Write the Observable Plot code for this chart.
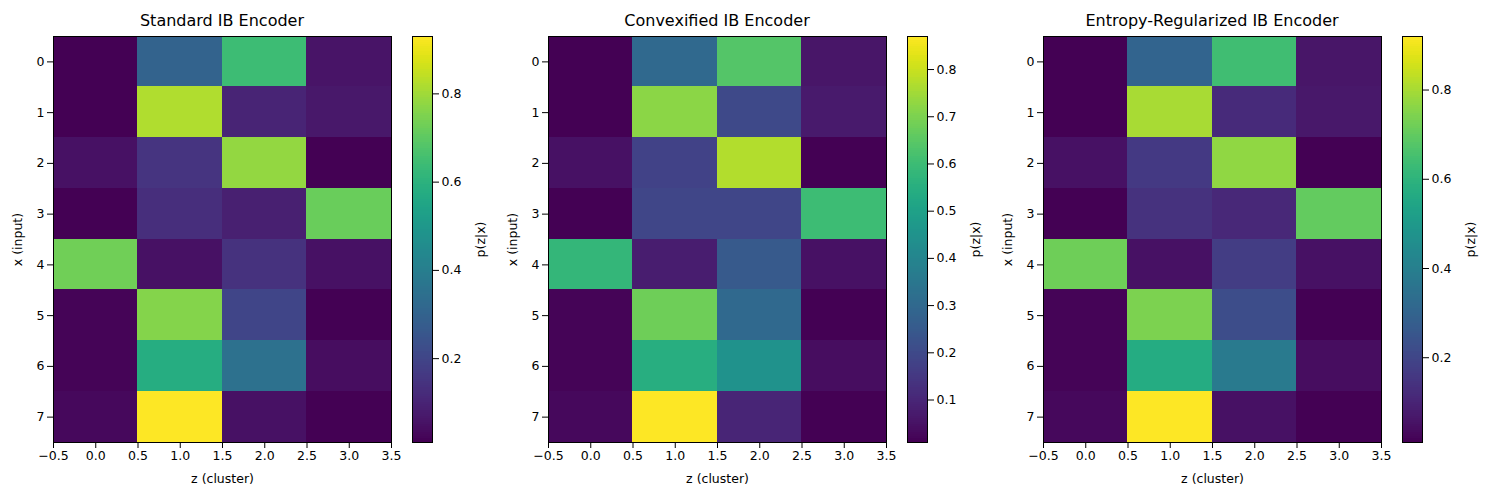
<!DOCTYPE html>
<html><head><meta charset="utf-8">
<script src="https://cdn.jsdelivr.net/npm/d3@7"></script>
<script src="https://cdn.jsdelivr.net/npm/@observablehq/plot@0.6"></script>
<style>
body{margin:0;background:#fff;font-family:"DejaVu Sans",sans-serif;}
#root{position:relative;width:1500px;height:500px;}
.abs{position:absolute;top:0;}
.abs svg{max-width:none !important;}
.title{position:absolute;top:11px;font-size:16px;text-align:center;width:338px;}
</style></head><body><div id="root"></div>
<script>
const titles = ["Standard IB Encoder","Convexified IB Encoder","Entropy-Regularized IB Encoder"];
const clusters = [0,1,2,3];
const inputs = [0,1,2,3,4,5,6,7];
const standard = [
 [0.01,0.30,0.64,0.06],[0.01,0.82,0.10,0.07],[0.05,0.15,0.78,0.01],[0.01,0.13,0.09,0.72],
 [0.73,0.05,0.14,0.05],[0.02,0.76,0.20,0.01],[0.02,0.58,0.35,0.04],[0.03,0.93,0.05,0.01]];
const convexified = [
 [0.01,0.30,0.64,0.06],[0.01,0.72,0.20,0.07],[0.05,0.18,0.77,0.01],[0.01,0.19,0.19,0.60],
 [0.58,0.08,0.25,0.05],[0.02,0.68,0.30,0.01],[0.02,0.55,0.45,0.04],[0.03,0.87,0.10,0.01]];
const entropyReg = [
 [0.01,0.30,0.64,0.06],[0.01,0.80,0.12,0.07],[0.05,0.16,0.77,0.01],[0.01,0.14,0.11,0.70],
 [0.72,0.05,0.17,0.05],[0.02,0.74,0.22,0.01],[0.02,0.57,0.38,0.04],[0.03,0.92,0.05,0.01]];
const xTicks = [-0.5,0,0.5,1,1.5,2,2.5,3,3.5];
const cbTicks = [[0.2,0.4,0.6,0.8],[0.1,0.2,0.3,0.4,0.5,0.6,0.7,0.8],[0.2,0.4,0.6,0.8]];
const matrices = [standard, convexified, entropyReg];
const offsets = [0, 495, 990];
const fmt = d => d.toFixed(1).replace("-", "\u2212");

const root = document.getElementById("root");
matrices.forEach((m, i) => {
  const data = [];
  inputs.forEach(x => clusters.forEach(z => data.push({x, z, v: m[x][z]})));
  const vals = data.map(d => d.v);
  const lo = d3.min(vals), hi = d3.max(vals);
  const color = {type:"linear", scheme:"viridis", domain:[lo,hi]};
  const p = Plot.plot({
    width: 400, height: 500, marginTop: 36, marginBottom: 58, marginLeft: 53, marginRight: 9,
    style:{fontSize:"12.5px", fontFamily:"DejaVu Sans", background:"transparent", overflow:"visible", color:"#000"},
    x:{type:"linear", domain:[-0.5,3.5], ticks:xTicks, tickFormat:fmt, label:"z (cluster)", labelAnchor:"center", labelArrow:"none", labelOffset:40},
    y:{type:"linear", domain:[7.5,-0.5], ticks:inputs, tickFormat:d=>String(d), label:"x (input)", labelAnchor:"center", labelArrow:"none", labelOffset:40},
    color,
    marks:[
      Plot.rect(data,{x1:d=>d.z-0.5,x2:d=>d.z+0.5,y1:d=>d.x-0.5,y2:d=>d.x+0.5,fill:"v",inset:-0.3,shapeRendering:"crispEdges"}),
      Plot.frame({stroke:"#000"})
    ]
  });
  const wrap = document.createElement("div"); wrap.className="abs"; wrap.style.left=offsets[i]+"px";
  wrap.appendChild(p); root.appendChild(wrap);
  const t = document.createElement("div"); t.className="title"; t.style.left=(offsets[i]+53)+"px"; t.textContent=titles[i];
  root.appendChild(t);
  const steps = d3.range(200).map(k => ({a: lo+(hi-lo)*k/200, b: lo+(hi-lo)*(k+1)/200}));
  const cb = Plot.plot({
    width: 90, height: 500, marginTop: 36, marginBottom: 58, marginLeft: 0, marginRight: 70,
    style:{fontSize:"12.5px", fontFamily:"DejaVu Sans", background:"transparent", overflow:"visible", color:"#000"},
    x:{domain:[0,1], axis:null},
    y:{domain:[lo,hi], axis:null},
    color,
    marks:[
      Plot.rect(steps,{x1:0,x2:1,y1:"a",y2:"b",fill:d=>(d.a+d.b)/2,inset:-0.3,shapeRendering:"crispEdges"}),
      Plot.axisY({anchor:"right", ticks:cbTicks[i], tickFormat:fmt, label:"p(z|x)", labelAnchor:"center", labelArrow:"none", labelOffset:52}),
      Plot.frame({stroke:"#000"})
    ]
  });
  const w2 = document.createElement("div"); w2.className="abs"; w2.style.left=(offsets[i]+412)+"px";
  w2.appendChild(cb); root.appendChild(w2);
});
</script></body></html>
